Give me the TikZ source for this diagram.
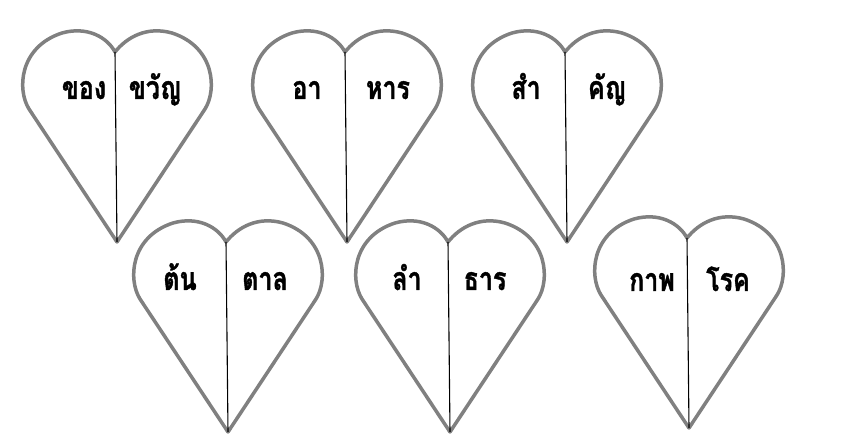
\documentclass[tikz,border=0pt]{standalone}
\usepackage{fontspec}
\newfontfamily\thaifont[Script=Thai,FakeStretch=0.78,FakeBold=1.2]{Loma}
\definecolor{heartgray}{HTML}{808080}
\begin{document}
\begin{tikzpicture}[x=1pt,y=1pt,
  heartline/.style={draw=heartgray, line width=3.5pt, line join=round},
  divider/.style={draw=black, line width=1.1pt},
  word/.style={font=\thaifont\bfseries\fontsize{32}{38}\selectfont, anchor=base, inner sep=0pt},
  heart/.pic={
    \coordinate (-tip) at (0,0);
    \coordinate (-notch) at (-2,190);
    \path[heartline] (-tip) -- (-88,133) .. controls (-100,152) and (-98,195) .. (-55,209)
      .. controls (-30,216) and (-10,205) .. (-notch)
      .. controls (10,205) and (30,216) .. (55,209)
      .. controls (98,195) and (100,152) .. (88,133) -- cycle;
    \draw[divider] (-notch) -- (-tip);
  }]
\useasboundingbox (0,0) rectangle (864,435);
\fill[white] (0,0) rectangle (864,435);
\pic (h1) at (117,193) {heart};
\pic (h2) at (347,193) {heart};
\pic (h3) at (567,193) {heart};
\pic (h4) at (228,3) {heart};
\pic (h5) at (450,3) {heart};
\pic (h6) at (689,7) {heart};
\node[word] (w1a) at (84,336) {ของ};
\node[word] (w1b) at (155,336) {ขวัญ};
\node[word] (w2a) at (307,336) {อา};
\node[word] (w2b) at (388,336) {หาร};
\node[word] (w3a) at (526,336) {สำ};
\node[word] (w3b) at (607,336) {คัญ};
\node[word] (w4a) at (180,145) {ต้น};
\node[word] (w4b) at (265,145) {ตาล};
\node[word] (w5a) at (407,145) {ลำ};
\node[word] (w5b) at (485,145) {ธาร};
\node[word] (w6a) at (652,144) {กาพ};
\node[word] (w6b) at (728,144) {โรค};
\end{tikzpicture}
\end{document}
